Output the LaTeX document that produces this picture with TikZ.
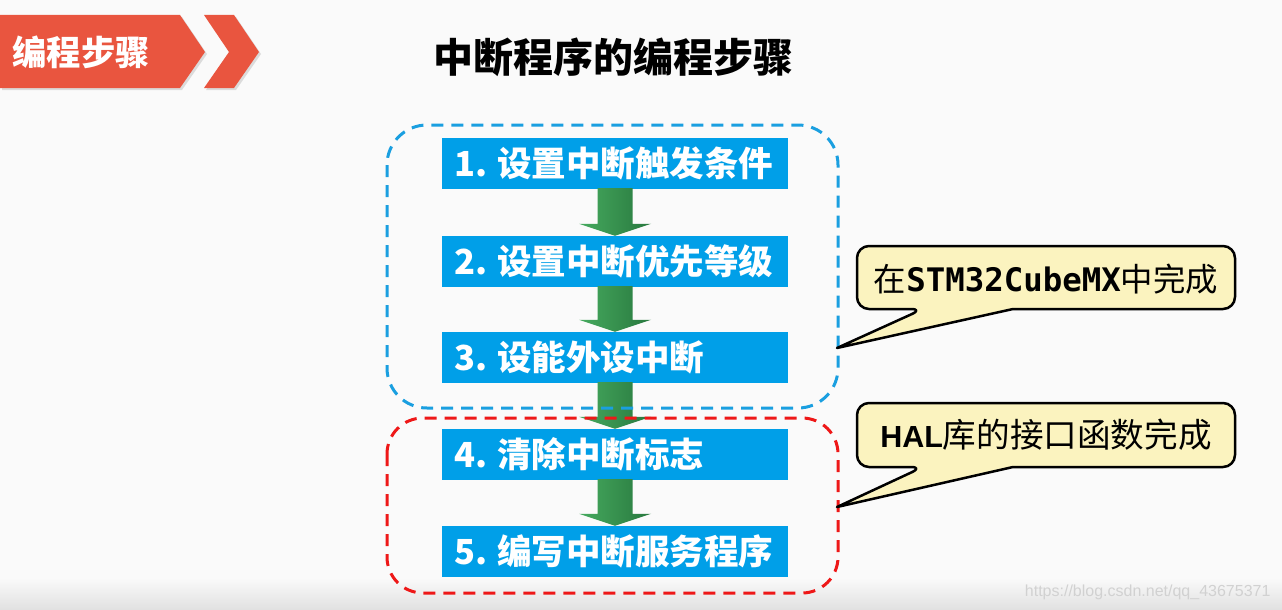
\documentclass[tikz,border=0pt]{standalone}
\usepackage{fontspec}
\usetikzlibrary{calc,shadows}
\newfontfamily\cjk{Noto Sans CJK SC}
\newfontfamily\monob{DejaVu Sans Mono}
\newfontfamily\arialf{Liberation Sans}
\definecolor{bannerred}{RGB}{233,85,63}
\definecolor{boxblue}{RGB}{0,159,232}
\definecolor{dashblue}{RGB}{26,159,224}
\definecolor{dashred}{RGB}{238,24,24}
\definecolor{calloutfill}{RGB}{251,243,191}
\definecolor{glight}{RGB}{70,170,95}
\definecolor{gdark}{RGB}{40,120,62}
\newcommand{\numgap}{\hspace{0.3em}}
\tikzset{
  stepbox/.style={fill=boxblue, text=white, text width=322pt, align=left,
    inner xsep=12pt, inner ysep=0pt, minimum height=51pt,
    font=\cjk\bfseries\fontsize{34.5}{40}\selectfont},
  garrow/.style={left color=glight, right color=gdark, draw=none},
  groupblue/.style={draw=dashblue, line width=3pt, dash pattern=on 12pt off 8pt, rounded corners=40pt},
  groupred/.style={draw=dashred, line width=3pt, dash pattern=on 12pt off 8pt, rounded corners=36pt},
  callout/.style={fill=calloutfill, draw=black, line width=2.5pt, line join=round},
  banner/.style={fill=bannerred, draw=none, drop shadow={opacity=0.25, shadow xshift=2pt, shadow yshift=-2pt}}
}
\begin{document}
\begin{tikzpicture}[x=1pt,y=-1pt]
\useasboundingbox (0,0) rectangle (1282,610);
\fill[white!98!black] (0,0) rectangle (1282,610);
\shade[top color=white!98!black, bottom color=white!88!black] (0,578) rectangle (1282,610);

% banner
\path[banner] (0,15) -- (180,15) -- (205,52) -- (180,88) -- (0,88) -- cycle;
\path[banner] (204,15) -- (234,15) -- (259,52) -- (234,88) -- (204,88) -- (229,52) -- cycle;
\node[text=white, font=\cjk\bfseries\fontsize{34.3}{40}\selectfont] (bannertxt) at (81,52) {编程步骤};

% title
\node[font=\cjk\bfseries\fontsize{40}{46}\selectfont] (title) at (613,57) {中断程序的编程步骤};

% step boxes
\node[stepbox] (b1) at (615,163.5) {1.\numgap 设置中断触发条件};
\node[stepbox] (b2) at (615,261.5) {2.\numgap 设置中断优先等级};
\node[stepbox] (b3) at (615,357.5) {3.\numgap 设能外设中断};
\node[stepbox] (b4) at (615,454.5) {4.\numgap 清除中断标志};
\node[stepbox] (b5) at (615,551.5) {5.\numgap 编写中断服务程序};

% green arrows
\foreach \a/\b in {b1/b2,b2/b3,b3/b4,b4/b5}{
  \path[garrow] ($(\a.south)+(-17.5,-1)$) -- ($(\a.south)+(17.5,-1)$)
    -- ($(\b.north)+(17.5,-12)$) -- ($(\b.north)+(36,-12)$)
    -- (\b.north) -- ($(\b.north)+(-36,-12)$) -- ($(\b.north)+(-17.5,-12)$) -- cycle;
}

% dashed groups
\draw[groupblue] (387,125) rectangle (838,408);
\draw[groupred] (387,418) rectangle (838,593);

% callouts
\coordinate (tip1) at (837,348);
\coordinate (tip2) at (837,507);
\path[callout, rounded corners=12pt] (1046,246) -- (857,246) -- (857,309) -- (923,309) [sharp corners] -- (tip1) -- (1013,309) [rounded corners=12pt] -- (1235,309) -- (1235,246) -- cycle;
\node (c1) at (1046,279) {\cjk\fontsize{32.4}{38}\selectfont 在{\monob\bfseries STM32CubeMX}中完成};

\path[callout, rounded corners=12pt] (1046,403) -- (857,403) -- (857,467) -- (923,467) [sharp corners] -- (tip2) -- (1013,467) [rounded corners=12pt] -- (1235,467) -- (1235,403) -- cycle;
\node (c2) at (1046,435) {\cjk\fontsize{33.6}{38}\selectfont {\arialf\bfseries\fontsize{30.5}{36}\selectfont HAL}库的接口函数完成};

% watermark
\node[text=white!82!black, font=\arialf\fontsize{16}{18}\selectfont, anchor=east] (wm) at (1274,592) {https://blog.csdn.net/qq\_43675371};
\end{tikzpicture}
\end{document}
